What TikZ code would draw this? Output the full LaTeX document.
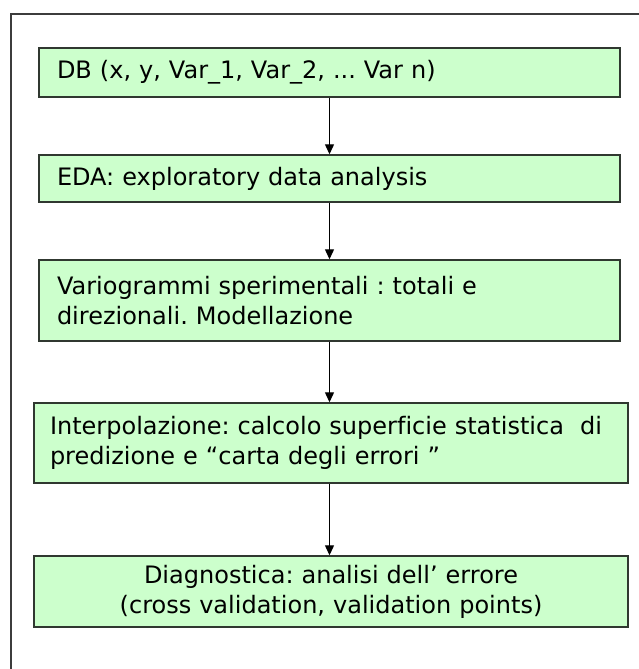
\documentclass[tikz,border=0pt]{standalone}
\usepackage{fontspec}
\setmainfont[Ligatures=NoCommon]{DejaVu Sans}
\usetikzlibrary{arrows.meta}
\definecolor{boxfill}{HTML}{CCFFCC}
\definecolor{boxline}{HTML}{303830}
\definecolor{frameline}{HTML}{3C3C3C}
\frenchspacing
\begin{document}
\begin{tikzpicture}[x=1pt,y=-1pt,
  flowbox/.style={draw=boxline, fill=boxfill, line width=1.4pt,
    font=\fontsize{24}{30}\selectfont, inner xsep=18pt, inner ysep=0pt, align=left},
  flowarrow/.style={draw=black, line width=1.2pt, -{Triangle[width=9pt,length=10pt]}}]
\useasboundingbox (0,0) rectangle (639,669);
\draw[frameline, line width=1.3pt] (639,14) -- (11,14) -- (11,669);
\node[flowbox, text width=545pt, minimum height=49pt] (b1) at (329.5,72.5)
  {DB (x, y, Var\_1, Var\_2, ... Var n)};
\node[flowbox, text width=545pt, minimum height=47pt] (b2) at (329.5,178.5)
  {EDA: exploratory data analysis};
\node[flowbox, text width=545pt, minimum height=81pt] (b3) at (329.5,300.5)
  {Variogrammi sperimentali : totali e\\direzionali. Modellazione};
\node[flowbox, inner xsep=16pt, text width=562pt, minimum height=80pt] (b4) at (331,443)
  {Interpolazione: calcolo superficie statistica~ di\\predizione e “carta degli errori ”};
\node[flowbox, inner xsep=16pt, text width=562pt, minimum height=71pt, align=center] (b5) at (331,591.5)
  {Diagnostica: analisi dell’ errore\\(cross validation, validation points)};
\draw[flowarrow] (b1.south) -- (b1.south |- b2.north);
\draw[flowarrow] (b2.south) -- (b2.south |- b3.north);
\draw[flowarrow] (b3.south) -- (b3.south |- b4.north);
\draw[flowarrow] ([xshift=-1.5pt]b4.south) -- ([xshift=-1.5pt]b4.south |- b5.north);
\end{tikzpicture}
\end{document}
